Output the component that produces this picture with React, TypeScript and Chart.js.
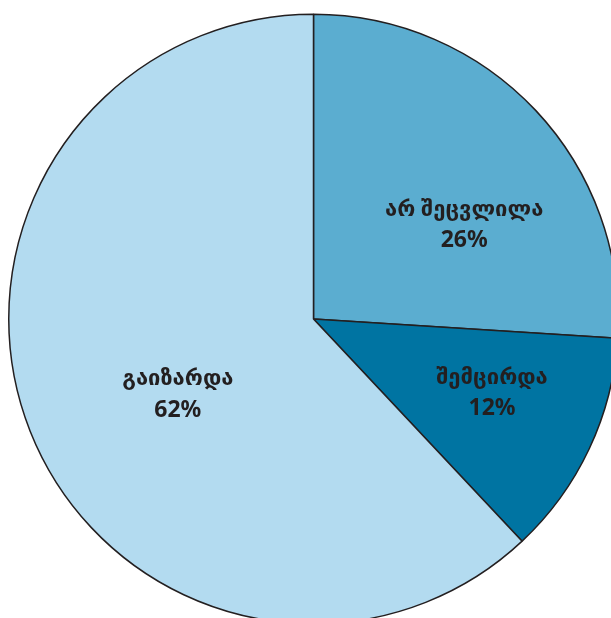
import React, { useEffect, useRef } from "react";
import { Chart, registerables } from "chart.js";

Chart.register(...registerables);

const categories = ["არ შეცვლილა", "შემცირდა", "გაიზარდა"];
const values = [26, 12, 62];
const valueLabels = ["26%", "12%", "62%"];
const colors = ["#5badd0", "#0074a2", "#b3dbf0"];

// label placement: angle (deg, clockwise from top) and fraction of radius
const labelAngles = [58, 112.5, 241];
const labelRadii = [0.583, 0.634, 0.509];

const labelPlugin = {
  id: "sliceLabels",
  afterDatasetsDraw(chart: any) {
    const ctx = chart.ctx;
    const meta = chart.getDatasetMeta(0);
    const arc0 = meta.data[0];
    if (!arc0) return;
    const cx = arc0.x;
    const cy = arc0.y;
    const r = arc0.outerRadius;
    ctx.save();
    ctx.fillStyle = "#231f20";
    ctx.textAlign = "center";
    ctx.textBaseline = "middle";
    categories.forEach((c, i) => {
      const a = (labelAngles[i] * Math.PI) / 180;
      const x = cx + Math.sin(a) * r * labelRadii[i];
      const y = cy - Math.cos(a) * r * labelRadii[i];
      ctx.font = "bold 22px 'Noto Sans', 'DejaVu Sans', sans-serif";
      ctx.fillText(c, x, y - 15);
      ctx.font = "bold 23px 'Noto Sans', 'DejaVu Sans', sans-serif";
      ctx.fillText(valueLabels[i], x, y + 16);
    });
    ctx.restore();
  },
};

export default function App() {
  const ref = useRef<HTMLCanvasElement>(null);
  useEffect(() => {
    if (!ref.current) return;
    const chart = new Chart(ref.current, {
      type: "pie",
      data: {
        labels: categories,
        datasets: [
          {
            data: values,
            backgroundColor: colors,
            borderColor: "#231f20",
            borderWidth: 1.5,
            hoverOffset: 0,
            offset: 0,
          },
        ],
      },
      options: {
        responsive: false,
        animation: false,
        layout: { padding: 0 },
        plugins: {
          legend: { display: false },
          tooltip: { enabled: false },
        },
        events: [],
      },
      plugins: [labelPlugin],
    });
    return () => chart.destroy();
  }, []);
  return (
    <div
      style={{
        position: "fixed",
        left: 8,
        top: 8,
        width: 603,
        height: 610,
        overflow: "hidden",
      }}
    >
      <canvas ref={ref} width={611} height={622} style={{ display: "block" }} />
    </div>
  );
}
